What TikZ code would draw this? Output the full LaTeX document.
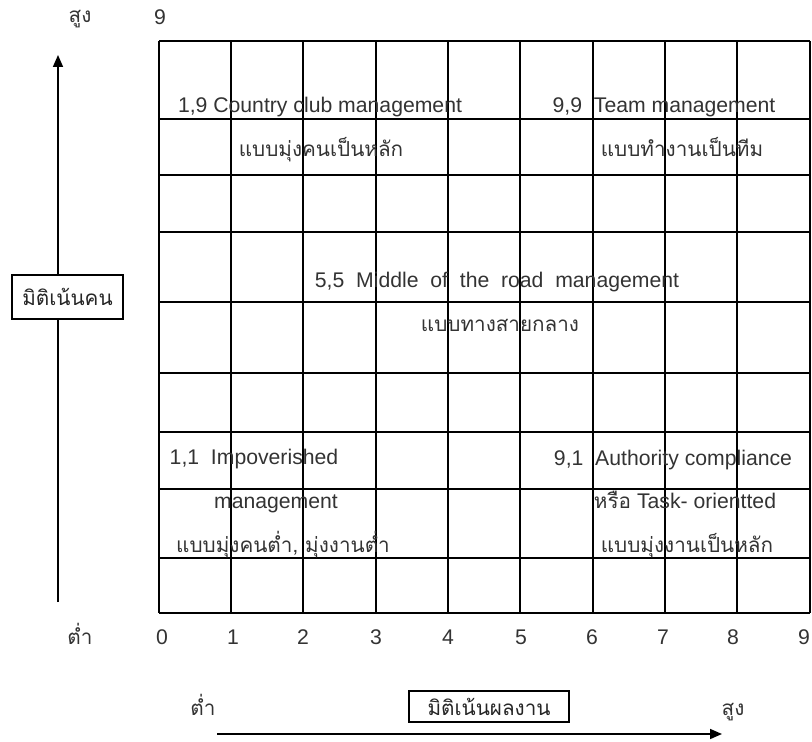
\documentclass[tikz,border=0pt]{standalone}
\usepackage{fontspec}
\setmainfont{Liberation Sans}
\newfontfamily\thai[Script=Thai,Scale=0.975]{Loma}
\usetikzlibrary{arrows.meta}
\begin{document}
\begin{tikzpicture}[x=0.5pt,y=-0.5pt,
  font=\fontsize{10.6}{12}\selectfont,
  lbl/.style={inner sep=0pt, anchor=base, text=black!80},
  gridline/.style={line width=0.8pt},
  titlebox/.style={draw, line width=0.7pt, fill=white, inner sep=0pt, text=black!85},
  axisarrow/.style={line width=0.8pt, -{Triangle[length=6pt,width=5pt]}}]
\useasboundingbox (0,0) rectangle (812,742);
% grid
\foreach \x in {159,231,303,376,448,520,593,665,737,810}
  \draw[gridline] (\x,41) -- (\x,613);
\foreach \y in {41,119,175,232,302,373,432,489,558,613}
  \draw[gridline] (159,\y) -- (810,\y);
% vertical axis
\coordinate (vbot) at (58,602);
\coordinate (vtop) at (58,55);
\draw[axisarrow] (vbot) -- (vtop);
\node[titlebox, minimum width=55.5pt, minimum height=22pt] (pbox) at (67.5,297) {\thai มิติเน้นคน};
\node[lbl] (vhigh) at (80,23) {\thai สูง};
\node[lbl] (top9) at (160,25) {9};
\node[lbl] (vlow) at (80,644) {\thai ต่ำ};
% horizontal axis numbers
\foreach \n/\x in {0/162,1/233,2/303,3/376,4/448,5/521,6/592,7/663,8/733,9/804}
  \node[lbl] (n\n) at (\x,644) {\n};
% horizontal axis
\coordinate (hl) at (217,734);
\coordinate (hr) at (722,734);
\draw[axisarrow] (hl) -- (hr);
\node[lbl] (hlow) at (203,715) {\thai ต่ำ};
\node[lbl] (hhigh) at (733,715) {\thai สูง};
\node[titlebox, minimum width=80pt, minimum height=15.5pt] (wbox) at (489,706.5) {\thai มิติเน้นผลงาน};
% styles in grid
\node[lbl] (c19) at (320,113) {1,9 Country club management};
\node[lbl] (c19t) at (321,157) {\thai แบบมุ่งคนเป็นหลัก};
\node[lbl] (c99) at (664,113) {9,9 \ Team management};
\node[lbl] (c99t) at (682,157) {\thai แบบทำงานเป็นทีม};
\node[lbl] (c55) at (497,288) {5,5 \ Middle \ of \ the \ road \ management};
\node[lbl] (c55t) at (500,332) {\thai แบบทางสายกลาง};
\node[lbl] (c11) at (254,464) {1,1 \ Impoverished};
\node[lbl] (c11b) at (276,508) {management};
\node[lbl] (c11t) at (283,552) {\thai แบบมุ่งคนต่ำ, มุ่งงานต่ำ};
\node[lbl] (c91) at (673,465) {9,1 \ Authority compliance};
\node[lbl] (c91b) at (685,508) {{\thai หรือ} Task- orientted};
\node[lbl] (c91t) at (687,552) {\thai แบบมุ่งงานเป็นหลัก};
\end{tikzpicture}
\end{document}
